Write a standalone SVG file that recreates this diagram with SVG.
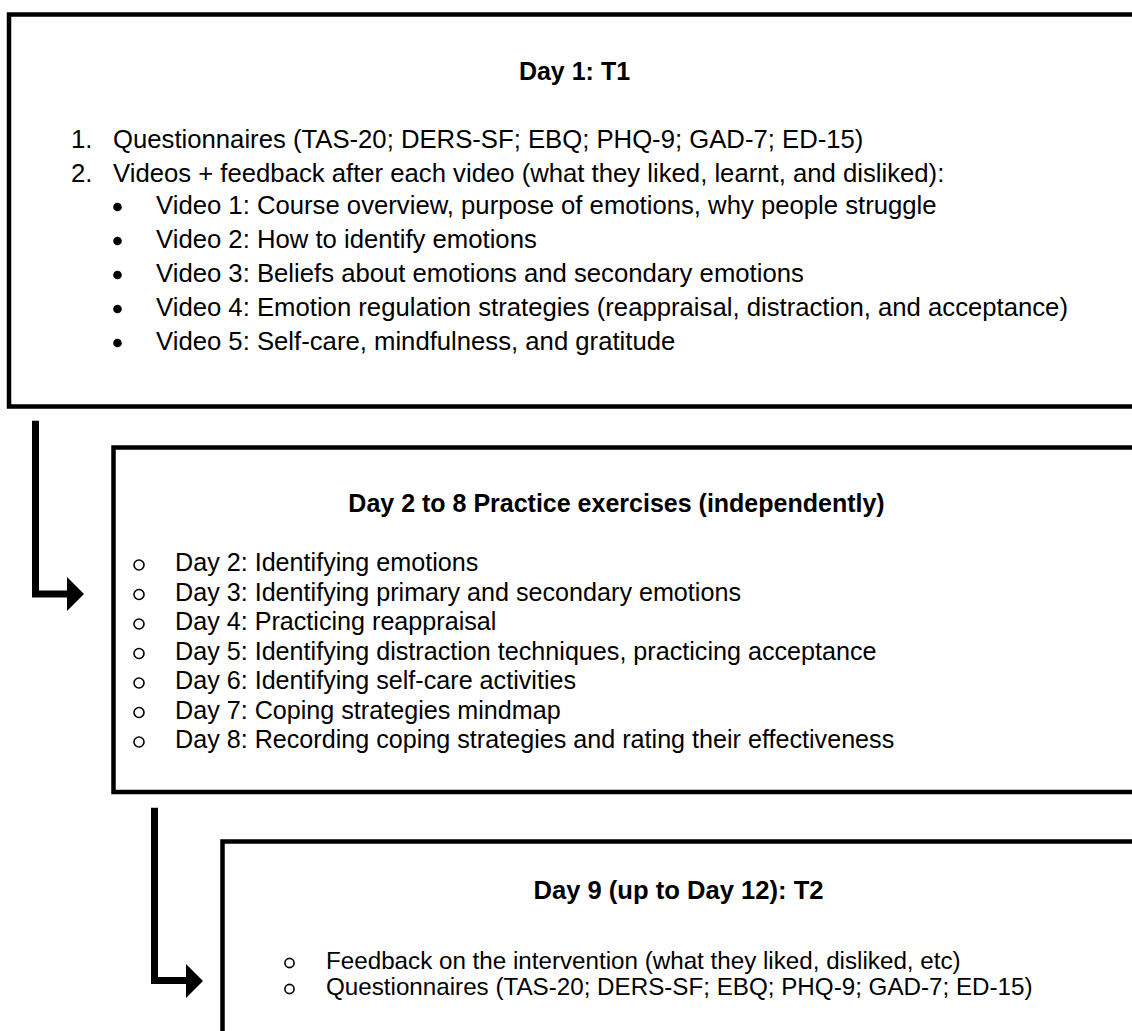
<svg xmlns="http://www.w3.org/2000/svg" width="1132" height="1031" viewBox="0 0 1132 1031">
<style>
.box{fill:#fff;stroke:#000;stroke-width:4.5}
.t{font-family:"Liberation Sans",Arial,sans-serif;fill:#000}
.b{font-weight:bold;text-anchor:middle;font-size:25px}
.f1{font-size:25.7px}
.f2{font-size:25.15px}
.f3{font-size:24.2px}
.conn{fill:none;stroke:#000;stroke-width:7;stroke-linejoin:miter}
.head{fill:#000}
.circ{fill:none;stroke:#000;stroke-width:1.6}
</style>
<rect width="1132" height="1031" fill="#fff"/>
<g id="node-day1">
<rect class="box" x="9" y="14.5" width="1140" height="392"/>
<text class="t b" x="574.5" y="80">Day 1: T1</text>
<text class="t f1" x="71" y="148">1.</text>
<text class="t f1" x="113" y="148">Questionnaires (TAS-20; DERS-SF; EBQ; PHQ-9; GAD-7; ED-15)</text>
<text class="t f1" x="71" y="182">2.</text>
<text class="t f1" x="113" y="182">Videos + feedback after each video (what they liked, learnt, and disliked):</text>
<circle cx="117.5" cy="207" r="4.3"/>
<text class="t f1" x="156" y="214">Video 1: Course overview, purpose of emotions, why people struggle</text>
<circle cx="117.5" cy="241" r="4.3"/>
<text class="t f1" x="156" y="248">Video 2: How to identify emotions</text>
<circle cx="117.5" cy="275" r="4.3"/>
<text class="t f1" x="156" y="282">Video 3: Beliefs about emotions and secondary emotions</text>
<circle cx="117.5" cy="309" r="4.3"/>
<text class="t f1" x="156" y="316">Video 4: Emotion regulation strategies (reappraisal, distraction, and acceptance)</text>
<circle cx="117.5" cy="343" r="4.3"/>
<text class="t f1" x="156" y="350">Video 5: Self-care, mindfulness, and gratitude</text>
</g>
<g id="node-day2-8">
<rect class="box" x="113.5" y="447.5" width="1040" height="344.5"/>
<text class="t b" x="616.5" y="511.5">Day 2 to 8 Practice exercises (independently)</text>
<circle class="circ" cx="139" cy="565" r="5"/>
<text class="t f2" x="175" y="571">Day 2: Identifying emotions</text>
<circle class="circ" cx="139" cy="594.5" r="5"/>
<text class="t f2" x="175" y="600.5">Day 3: Identifying primary and secondary emotions</text>
<circle class="circ" cx="139" cy="624" r="5"/>
<text class="t f2" x="175" y="630">Day 4: Practicing reappraisal</text>
<circle class="circ" cx="139" cy="653.5" r="5"/>
<text class="t f2" x="175" y="659.5">Day 5: Identifying distraction techniques, practicing acceptance</text>
<circle class="circ" cx="139" cy="683" r="5"/>
<text class="t f2" x="175" y="689">Day 6: Identifying self-care activities</text>
<circle class="circ" cx="139" cy="712.5" r="5"/>
<text class="t f2" x="175" y="718.5">Day 7: Coping strategies mindmap</text>
<circle class="circ" cx="139" cy="742" r="5"/>
<text class="t f2" x="175" y="748">Day 8: Recording coping strategies and rating their effectiveness</text>
</g>
<g id="node-day9">
<rect class="box" x="222.5" y="841.5" width="940" height="220"/>
<text class="t b" x="678.5" y="899" style="font-size:25.6px">Day 9 (up to Day 12): T2</text>
<circle class="circ" cx="289.5" cy="963" r="4.6"/>
<text class="t f3" x="326" y="969">Feedback on the intervention (what they liked, disliked, etc)</text>
<circle class="circ" cx="289.5" cy="989" r="4.6"/>
<text class="t f3" x="326" y="995">Questionnaires (TAS-20; DERS-SF; EBQ; PHQ-9; GAD-7; ED-15)</text>
</g>
<g id="connectors">
<path class="conn" d="M35.5,420.7 V594 H68"/>
<polygon class="head" points="67,577 84,594 67,611"/>
<path class="conn" d="M154.5,807.7 V980.5 H187"/>
<polygon class="head" points="186,964 203,981 186,998"/>
</g>
</svg>
